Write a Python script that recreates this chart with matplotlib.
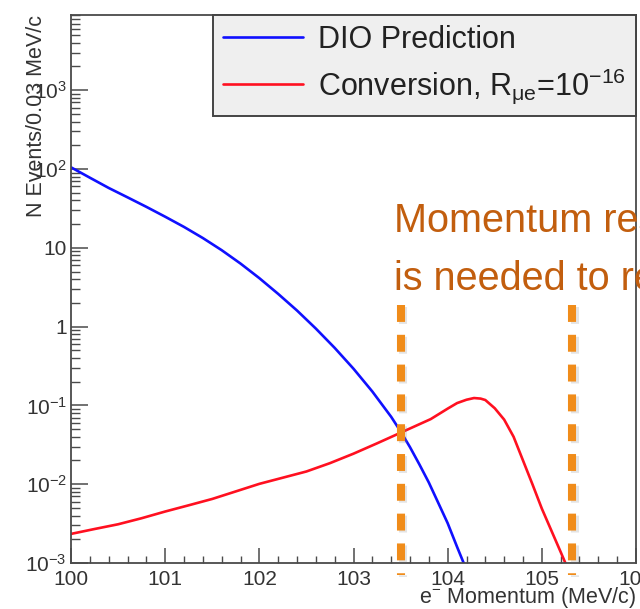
import math
import matplotlib
matplotlib.use("Agg")
import matplotlib.pyplot as plt
import matplotlib.ticker as mticker
import matplotlib.patheffects as pe
import matplotlib.transforms as mtransforms

# ---------------- data ----------------
dio_p = [100.0, 100.2, 100.4, 100.6, 100.8, 101.0, 101.2, 101.4, 101.6, 101.8,
         102.0, 102.2, 102.4, 102.6, 102.8, 103.0, 103.2, 103.4, 103.5, 103.6,
         103.7, 103.8, 103.9, 104.0, 104.1, 104.17]
dio_n = [105, 77.6, 57.5, 43.7, 33.1, 24.8, 18.4, 13.3, 9.33, 6.31,
         4.12, 2.60, 1.60, 0.944, 0.537, 0.292, 0.150, 0.0716, 0.0468, 0.0295,
         0.0178, 0.0105, 0.0058, 0.0032, 0.0016, 0.0010]

conv_p = [100.0, 100.25, 100.5, 100.75, 101.0, 101.25, 101.5, 101.75, 102.0, 102.25,
          102.5, 102.75, 103.0, 103.25, 103.5, 103.82, 104.0,
          104.1, 104.2, 104.28, 104.35, 104.4, 104.5, 104.6, 104.7, 104.8, 104.9,
          105.0, 105.1, 105.2, 105.25]
conv_n = [0.00234, 0.0027, 0.0031, 0.0037, 0.0045, 0.0054, 0.0065, 0.0081, 0.0101, 0.0121,
          0.0145, 0.0185, 0.0244, 0.0330, 0.045, 0.067, 0.091,
          0.107, 0.118, 0.124, 0.122, 0.117, 0.092, 0.066, 0.040, 0.020, 0.010,
          0.0049, 0.0026, 0.00138, 0.0010]

window_edges = [103.5, 105.32]

x_range = (100, 106)
y_range = (1e-3, 9000)

dio_label = "DIO Prediction"
conv_label = r"Conversion, R$_{\mu e}$=10$^{-16}$"
xlabel = r"e$^{-}$ Momentum (MeV/c)"
ylabel = "N Events/0.03 MeV/c"
note_lines = ["Momentum resolution", "is needed to reject DIO"]

# ---------------- style ----------------
plt.rcParams['font.family'] = ['Liberation Sans', 'DejaVu Sans']
plt.rcParams['mathtext.fontset'] = 'custom'
plt.rcParams['mathtext.rm'] = 'Liberation Sans'
plt.rcParams['mathtext.it'] = 'Liberation Sans:italic'
plt.rcParams['mathtext.bf'] = 'Liberation Sans:bold'
plt.rcParams['mathtext.default'] = 'regular'

frame_col = '#4a4a4a'
text_col = '#333333'

fig = plt.figure(figsize=(6.4, 6.09), dpi=100)
ax = fig.add_axes([71/640, 46/609, 565/640, 548/609])

ax.plot(dio_p, dio_n, color='#1010ff', lw=1.9, label=dio_label, solid_capstyle='round')
ax.plot(conv_p, conv_n, color='#ff1020', lw=1.9, label=conv_label, solid_capstyle='round')

ax.set_yscale('log')
ax.set_xlim(*x_range)
ax.set_ylim(*y_range)

# ticks
ax.xaxis.set_major_locator(mticker.MultipleLocator(1))
ax.xaxis.set_minor_locator(mticker.MultipleLocator(0.2))
ax.yaxis.set_major_locator(mticker.LogLocator(base=10, numticks=20))
ax.yaxis.set_minor_locator(mticker.LogLocator(base=10, subs=range(2, 10), numticks=20))
ax.yaxis.set_minor_formatter(mticker.NullFormatter())


def yfmt(v, pos):
    e = int(round(math.log10(v)))
    if e == 0:
        return "1"
    if e == 1:
        return "10"
    return r"10$^{%d}$" % e


ax.yaxis.set_major_formatter(mticker.FuncFormatter(yfmt))
ax.xaxis.set_major_formatter(mticker.FuncFormatter(lambda v, p: "%d" % round(v)))

ax.tick_params(axis='both', which='both', direction='in', colors=frame_col,
               labelcolor=text_col, top=False, right=False)
ax.tick_params(axis='y', which='major', length=12, width=1.1, labelsize=15, pad=3)
ax.tick_params(axis='y', which='minor', length=6.5, width=1.0)
ax.tick_params(axis='x', which='major', length=10.5, width=1.1, labelsize=15, pad=5)
ax.tick_params(axis='x', which='minor', length=5, width=1.0)

for s in ax.spines.values():
    s.set_color(frame_col)
    s.set_linewidth(1.3)

ax.set_xlabel(xlabel, fontsize=15.5, color=text_col, ha='right')
ax.xaxis.set_label_coords(1.0, -0.041)
ax.set_ylabel(ylabel, fontsize=15.5, color=text_col, ha='right')
ax.yaxis.set_label_coords(-0.042, 1.0)

# legend
leg = ax.legend(loc='upper right', bbox_to_anchor=(1.0, 1.0), borderaxespad=0,
                fontsize=22, frameon=True, fancybox=False, framealpha=1,
                facecolor='#efefef', edgecolor='#444444',
                handlelength=2.6, handletextpad=0.5, borderpad=0.33,
                labelspacing=0.38)
leg.get_frame().set_linewidth(1.4)
for t in leg.get_texts():
    t.set_color('#222222')

# orange dashed window lines
trans = mtransforms.blended_transform_factory(ax.transData, ax.transAxes)
for xe in window_edges:
    ax.plot([xe, xe], [0.471, -0.022], transform=trans, color='#f08c1a', lw=5.8,
            dashes=(2.1, 1.6), dash_capstyle='butt', clip_on=False, zorder=5,
            path_effects=[pe.SimpleLineShadow(offset=(2.0, -1.5), shadow_color='#888888', alpha=0.22),
                          pe.Normal()])

# annotation text
for i, line in enumerate(note_lines):
    ax.text(394/640, 1 - (232 + 58 * i)/609, line, transform=fig.transFigure,
            fontsize=28.5, color='#c25e0e', ha='left', va='baseline')

fig.savefig("out.png", dpi=100)
